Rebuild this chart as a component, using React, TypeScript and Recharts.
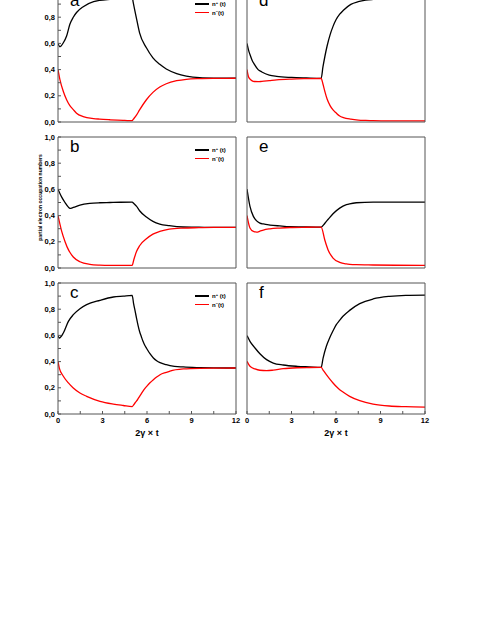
import React from 'react';
import { LineChart, Line, XAxis, YAxis, Legend, Label } from 'recharts';

// ---- data ----
const xTicks = [0, 1.5, 3, 4.5, 6, 7.5, 9, 10.5, 12];
const yTicks = [0, 0.1, 0.2, 0.3, 0.4, 0.5, 0.6, 0.7, 0.8, 0.9, 1.0];
const seriesNames = ['n⁺(t)', 'n⁻(t)'];
const seriesColors = ['#000000', '#ff0000'];
const panelLetters = ['a', 'b', 'c', 'd', 'e', 'f'];
const xTitle = '2γ × t';
const yTitle = 'partial electron occupation numbers';

// panel a
const tA = [0, 0.13, 0.36, 0.58, 0.8, 1.03, 1.25, 1.7, 2.4, 2.8, 3.5, 4, 4.5, 5, 5.07, 5.3, 5.5, 5.96, 6.4, 6.86, 7.3, 8, 8.65, 9.55, 10.5, 12];
const plusA = [0.6, 0.574, 0.605, 0.656, 0.746, 0.8, 0.836, 0.88, 0.918, 0.928, 0.936, 0.94, 0.945, 0.955, 0.913, 0.785, 0.68, 0.567, 0.49, 0.44, 0.405, 0.37, 0.351, 0.338, 0.335, 0.334];
const minusA = [0.4, 0.323, 0.233, 0.17, 0.125, 0.095, 0.067, 0.041, 0.026, 0.022, 0.017, 0.014, 0.012, 0.01, 0.02, 0.054, 0.092, 0.17, 0.226, 0.267, 0.292, 0.315, 0.326, 0.331, 0.333, 0.334];

// panel b
const tB = [0, 0.25, 0.47, 0.7, 0.8, 1.03, 1.48, 2.15, 2.82, 3.5, 4.2, 5, 5.11, 5.3, 5.5, 5.96, 6.4, 6.86, 7.5, 8.43, 9.5, 10.5, 12];
const plusB = [0.602, 0.541, 0.5, 0.465, 0.455, 0.462, 0.48, 0.493, 0.498, 0.5, 0.502, 0.503, 0.492, 0.47, 0.437, 0.389, 0.356, 0.335, 0.323, 0.313, 0.311, 0.31, 0.31];
const minusB = [0.4, 0.28, 0.203, 0.14, 0.12, 0.084, 0.048, 0.028, 0.022, 0.02, 0.02, 0.02, 0.063, 0.127, 0.17, 0.223, 0.259, 0.279, 0.297, 0.305, 0.308, 0.31, 0.31];

// panel c
const tC = [0, 0.09, 0.36, 0.7, 1.03, 1.48, 1.93, 2.83, 3.73, 4.4, 5, 5.1, 5.2, 5.3, 5.4, 5.5, 5.62, 5.73, 5.85, 5.98, 6.2, 6.43, 6.65, 6.88, 7.3, 7.55, 8.45, 9.57, 10.5, 12];
const plusC = [0.598, 0.58, 0.618, 0.707, 0.758, 0.804, 0.835, 0.868, 0.893, 0.9, 0.906, 0.84, 0.785, 0.728, 0.675, 0.63, 0.59, 0.555, 0.525, 0.5, 0.46, 0.428, 0.407, 0.392, 0.377, 0.37, 0.359, 0.354, 0.352, 0.351];
const minusC = [0.402, 0.35, 0.288, 0.237, 0.198, 0.16, 0.135, 0.097, 0.076, 0.065, 0.056, 0.07, 0.086, 0.1, 0.117, 0.135, 0.156, 0.175, 0.194, 0.211, 0.238, 0.262, 0.282, 0.3, 0.318, 0.328, 0.344, 0.349, 0.35, 0.351];

// panel d
const tD = [0, 0.1, 0.2, 0.35, 0.5, 0.75, 1, 1.5, 2, 3, 4, 5, 5.12, 5.25, 5.4, 5.6, 5.8, 6, 6.25, 6.5, 7, 7.5, 8, 8.5, 9.5, 10.5, 12];
const plusD = [0.6, 0.55, 0.515, 0.47, 0.44, 0.4, 0.382, 0.358, 0.348, 0.34, 0.336, 0.333, 0.42, 0.5, 0.58, 0.665, 0.73, 0.78, 0.823, 0.853, 0.898, 0.918, 0.93, 0.936, 0.942, 0.948, 0.955];
const minusD = [0.4, 0.345, 0.328, 0.314, 0.309, 0.308, 0.31, 0.316, 0.322, 0.328, 0.331, 0.333, 0.29, 0.233, 0.175, 0.125, 0.092, 0.07, 0.046, 0.034, 0.022, 0.015, 0.012, 0.01, 0.009, 0.008, 0.008];

// panel e
const tE = [0, 0.2, 0.43, 0.65, 0.87, 1.1, 1.55, 2.2, 2.9, 4, 5, 5.24, 5.35, 5.46, 5.8, 6.25, 6.7, 6.92, 7.37, 8.5, 10, 12];
const plusE = [0.602, 0.47, 0.394, 0.36, 0.343, 0.336, 0.328, 0.321, 0.315, 0.313, 0.312, 0.34, 0.356, 0.37, 0.414, 0.457, 0.483, 0.49, 0.498, 0.503, 0.503, 0.503];
const minusE = [0.4, 0.305, 0.279, 0.274, 0.281, 0.29, 0.299, 0.305, 0.309, 0.311, 0.312, 0.216, 0.175, 0.14, 0.076, 0.043, 0.031, 0.028, 0.025, 0.023, 0.021, 0.02];

// panel f
const tF = [0, 0.2, 0.54, 0.87, 1.32, 1.77, 2.44, 3.4, 4.2, 5, 5.13, 5.35, 5.57, 5.8, 6.02, 6.25, 6.47, 6.92, 7.6, 8.5, 9.6, 10.7, 12];
const plusF = [0.598, 0.555, 0.504, 0.46, 0.415, 0.389, 0.374, 0.364, 0.36, 0.356, 0.427, 0.517, 0.58, 0.635, 0.682, 0.716, 0.746, 0.791, 0.842, 0.878, 0.898, 0.906, 0.908];
const minusF = [0.402, 0.364, 0.344, 0.334, 0.331, 0.335, 0.346, 0.353, 0.355, 0.356, 0.335, 0.3, 0.268, 0.237, 0.21, 0.186, 0.168, 0.135, 0.102, 0.076, 0.061, 0.056, 0.053];

// ---- layout ----
const AX = 1; // axis band size
const ML = 39, MR = 9, MT = 9, MB = 29;
const PW = 178, PH = 131;
const CW = ML + AX + PW + AX + MR, CH = MT + AX + PH + AX + MB;
const colLeft = [58, 247];
const rowTop = [-9, 137, 283];
const frame = '#555555';
const FONT = '"Liberation Sans", Arial, Helvetica, sans-serif';
const tickStyle = { fontSize: 7.5, fontWeight: 'bold', fill: '#000', fontFamily: FONT };

const fmtX = (v: number) => (Math.abs(v % 3) < 1e-9 ? String(v) : '');
const fmtY = (v: number) => (Math.round(v * 10) % 2 === 0 ? v.toFixed(1).replace('.', ',') : '');

const legendContent = () => (
  <div style={{ fontFamily: FONT, fontWeight: 'bold', fontSize: 6, color: '#000' }}>
    {seriesNames.map((n, i) => (
      <div key={i} style={{ display: 'flex', alignItems: 'center', height: 8.4, whiteSpace: 'nowrap', color: '#000' }}>
        <span style={{ display: 'inline-block', width: 14, height: 1.5, background: seriesColors[i], marginRight: 3 }} />
        <span style={{ color: '#000' }}>
          {n.charAt(0)}
          <span style={{ fontSize: 4, position: 'relative', top: -2, color: '#000' }}>{i === 0 ? '+' : '−'}</span>
          {i === 0 ? ' (t)' : '(t)'}
        </span>
      </div>
    ))}
  </div>
);

type PanelProps = {
  t: number[]; plus: number[]; minus: number[];
  col: number; row: number; legend: boolean;
};

function Panel({ t, plus, minus, col, row, legend }: PanelProps) {
  const data = t.map((tt, i) => ({ t: tt, plus: plus[i], minus: minus[i] }));
  const yLabels = col === 0;
  const xLabels = row === 2;
  return (
    <div style={{ position: 'absolute', left: colLeft[col] - ML - AX, top: rowTop[row] - MT - AX }}>
      <LineChart width={CW} height={CH} data={data} margin={{ top: MT, right: MR, bottom: MB, left: ML }}>
        <XAxis
          dataKey="t" type="number" domain={[0, 12]} ticks={xTicks} interval={0} height={AX}
          allowDataOverflow axisLine={{ stroke: frame }} tickLine={{ stroke: frame }}
          tickSize={-3} tickMargin={7} tick={xLabels ? tickStyle : false} tickFormatter={fmtX}
        >
          {xLabels && (
            <Label value={xTitle} position="bottom" offset={15}
              style={{ fontSize: 9, fontWeight: 'bold', fill: '#000', fontFamily: FONT }} />
          )}
        </XAxis>
        <XAxis
          xAxisId="top" orientation="top" type="number" domain={[0, 12]} ticks={xTicks} interval={0}
          height={AX} allowDataOverflow axisLine={{ stroke: frame }} tickLine={{ stroke: frame }}
          tickSize={-3} tick={false}
        />
        <YAxis
          type="number" domain={[0, 1]} ticks={yTicks} interval={0} width={AX} allowDataOverflow
          axisLine={{ stroke: frame }} tickLine={{ stroke: frame }} tickSize={-3} tickMargin={6}
          tick={yLabels ? tickStyle : false} tickFormatter={fmtY}
        />
        <YAxis
          yAxisId="right" orientation="right" type="number" domain={[0, 1]} ticks={yTicks} interval={0}
          width={AX} allowDataOverflow axisLine={{ stroke: frame }} tickLine={{ stroke: frame }}
          tickSize={-3} tick={false}
        />
        <Line dataKey="plus" name={seriesNames[0]} type="monotone" stroke={seriesColors[0]} strokeWidth={1.3} dot={false} isAnimationActive={false} />
        <Line dataKey="minus" name={seriesNames[1]} type="monotone" stroke={seriesColors[1]} strokeWidth={1.3} dot={false} isAnimationActive={false} />
        {legend && (
          <Legend
            layout="horizontal" verticalAlign="middle" align="center" content={legendContent}
            wrapperStyle={{ left: 177, top: 19, width: 'auto', height: 'auto' }}
          />
        )}
      </LineChart>
    </div>
  );
}

export default function App() {
  const panels = [
    { t: tA, plus: plusA, minus: minusA, col: 0, row: 0 },
    { t: tB, plus: plusB, minus: minusB, col: 0, row: 1 },
    { t: tC, plus: plusC, minus: minusC, col: 0, row: 2 },
    { t: tD, plus: plusD, minus: minusD, col: 1, row: 0 },
    { t: tE, plus: plusE, minus: minusE, col: 1, row: 1 },
    { t: tF, plus: plusF, minus: minusF, col: 1, row: 2 },
  ];
  return (
    <div style={{ position: 'absolute', left: 0, top: 0, width: 491, height: 635, overflow: 'hidden', background: '#fff', fontFamily: FONT }}>
      {panels.map((p, i) => (
        <Panel key={i} {...p} legend={p.col === 0} />
      ))}
      <svg width={491} height={635} style={{ position: 'absolute', left: 0, top: 0, pointerEvents: 'none' }}>
        {panels.map((p, i) => (
          <text key={i} x={colLeft[p.col] + 12} y={rowTop[p.row] + 15} fontSize={17} fontFamily={FONT} fill="#000">
            {panelLetters[i]}
          </text>
        ))}
        <text
          x={40} y={197.5} fontSize={5} fontWeight="bold" fontFamily={FONT} fill="#000"
          textAnchor="middle" dominantBaseline="central" transform="rotate(-90 40 197.5)"
        >
          {yTitle}
        </text>
      </svg>
    </div>
  );
}
